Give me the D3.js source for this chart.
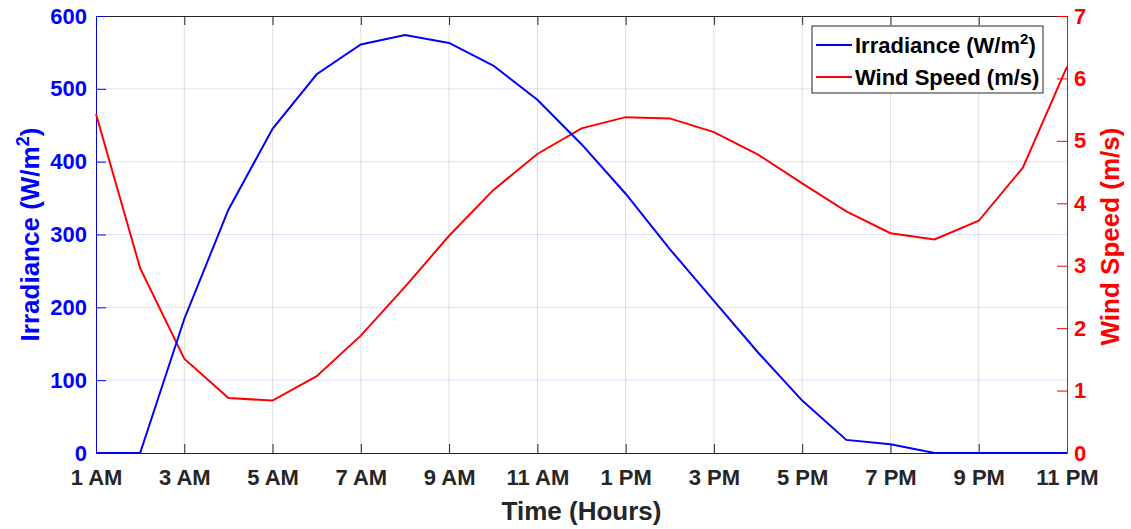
<!DOCTYPE html>
<head>
    <meta charset="utf-8">
    <script src="https://cdn.jsdelivr.net/npm/d3@7"></script>
    <style type="text/css">
        body { margin: 0; background: #fff; }
        svg { display: block; font-family: Arial, "Liberation Sans", sans-serif; font-weight: bold; }
    </style>
</head>
<body>
    <div id="chart"></div>
</body>
<script type="text/javascript">
    // Data
    var hours = [1, 2, 3, 4, 5, 6, 7, 8, 9, 10, 11, 12, 13, 14, 15, 16, 17, 18, 19, 20, 21, 22, 23];
    var irradiance = [0, 0, 184, 334, 445, 520, 561, 574, 563, 532, 485, 424, 356, 280, 209, 138, 72, 18, 12, 0, 0, 0, 0];
    var windSpeed = [5.43, 2.96, 1.51, 0.88, 0.84, 1.23, 1.88, 2.66, 3.48, 4.21, 4.79, 5.20, 5.38, 5.36, 5.14, 4.78, 4.32, 3.87, 3.52, 3.42, 3.72, 4.57, 6.19];
    var xTicks = [1, 3, 5, 7, 9, 11, 13, 15, 17, 19, 21, 23];
    var xTickLabels = ["1 AM", "3 AM", "5 AM", "7 AM", "9 AM", "11 AM", "1 PM", "3 PM", "5 PM", "7 PM", "9 PM", "11 PM"];
    var irrTicks = [0, 100, 200, 300, 400, 500, 600];
    var windTicks = [0, 1, 2, 3, 4, 5, 6, 7];

    var width = 1131, height = 529;
    var margin = {top: 16, right: 64, bottom: 76, left: 96};
    var x0 = margin.left, x1 = width - margin.right, y0 = height - margin.bottom, y1 = margin.top;

    var x = d3.scaleLinear().domain([1, 23]).range([x0, x1]);
    var yL = d3.scaleLinear().domain([0, 600]).range([y0, y1]);
    var yR = d3.scaleLinear().domain([0, 7]).range([y0, y1]);

    var svg = d3.select("#chart").append("svg")
        .attr("width", width)
        .attr("height", height);

    // grid
    svg.append("g").selectAll("line")
        .data(xTicks.slice(1, -1))
        .enter().append("line")
        .attr("x1", function(d) { return x(d); })
        .attr("x2", function(d) { return x(d); })
        .attr("y1", y1).attr("y2", y0)
        .attr("stroke", "#262626").attr("stroke-opacity", 0.15).attr("stroke-width", 1);

    svg.append("g").selectAll("line")
        .data(irrTicks.slice(1, -1))
        .enter().append("line")
        .attr("x1", x0).attr("x2", x1)
        .attr("y1", function(d) { return yL(d); })
        .attr("y2", function(d) { return yL(d); })
        .attr("stroke", "#0000ff").attr("stroke-opacity", 0.12).attr("stroke-width", 1);

    // x axes (bottom + top, ticks inside)
    var fmt = function(d) { return xTickLabels[xTicks.indexOf(d)]; };
    var xAxis = svg.append("g")
        .attr("transform", "translate(0," + y0 + ")")
        .call(d3.axisBottom(x).tickValues(xTicks).tickFormat(fmt).tickSizeInner(-9).tickSizeOuter(0).tickPadding(16));
    xAxis.selectAll("text").attr("fill", "#262626").style("font-size", "22px").style("font-weight", "bold");
    xAxis.selectAll("line, path").attr("stroke", "#262626");

    var xTop = svg.append("g")
        .attr("transform", "translate(0," + y1 + ")")
        .call(d3.axisTop(x).tickValues(xTicks).tickFormat("").tickSizeInner(-9).tickSizeOuter(0));
    xTop.selectAll("line, path").attr("stroke", "#262626");

    // left axis
    var left = svg.append("g")
        .attr("transform", "translate(" + x0 + ",0)")
        .call(d3.axisLeft(yL).tickValues(irrTicks).tickSizeInner(-10).tickSizeOuter(0).tickPadding(9));
    left.selectAll("line, path").attr("stroke", "#0000ff");
    left.selectAll("text").attr("fill", "#0000ff").style("font-size", "22px").style("font-weight", "bold");

    // right axis
    var right = svg.append("g")
        .attr("transform", "translate(" + x1 + ",0)")
        .call(d3.axisRight(yR).tickValues(windTicks).tickFormat(d3.format("d")).tickSizeInner(-10).tickSizeOuter(0).tickPadding(7));
    right.selectAll("line, path").attr("stroke", "#ff0000");
    right.selectAll("text").attr("fill", "#ff0000").style("font-size", "22px").style("font-weight", "bold");

    // lines
    var lineIrr = d3.line()
        .x(function(d, i) { return x(hours[i]); })
        .y(function(d) { return yL(d); });
    var lineWind = d3.line()
        .x(function(d, i) { return x(hours[i]); })
        .y(function(d) { return yR(d); });

    svg.append("path").datum(windSpeed)
        .attr("d", lineWind)
        .attr("fill", "none").attr("stroke", "#ff0000").attr("stroke-width", 2);
    svg.append("path").datum(irradiance)
        .attr("d", lineIrr)
        .attr("fill", "none").attr("stroke", "#0000ff").attr("stroke-width", 2);

    // axis titles
    svg.append("text")
        .attr("x", (x0 + x1) / 2).attr("y", 520)
        .attr("text-anchor", "middle")
        .attr("fill", "#262626")
        .style("font-size", "26px")
        .text("Time (Hours)");

    var tl = svg.append("text")
        .attr("transform", "translate(39," + ((y0 + y1) / 2) + ") rotate(-90)")
        .attr("text-anchor", "middle")
        .attr("fill", "#0000ff")
        .style("font-size", "26px");
    tl.append("tspan").text("Irradiance (W/m");
    tl.append("tspan").attr("dy", -10).style("font-size", "18px").text("2");
    tl.append("tspan").attr("dy", 10).text(")");

    svg.append("text")
        .attr("transform", "translate(1119," + ((y0 + y1) / 2 + 2) + ") rotate(-90)")
        .attr("text-anchor", "middle")
        .attr("fill", "#ff0000")
        .style("font-size", "26px")
        .text("Wind Speed (m/s)");

    // legend
    var legend = svg.append("g").attr("transform", "translate(812,26)");
    legend.append("rect")
        .attr("width", 231).attr("height", 67)
        .attr("fill", "#fff").attr("stroke", "#262626").attr("stroke-width", 1);
    var items = [{c: "#0000ff", y: 19}, {c: "#ff0000", y: 51}];
    items.forEach(function(it) {
        legend.append("line")
            .attr("x1", 4).attr("x2", 40)
            .attr("y1", it.y).attr("y2", it.y)
            .attr("stroke", it.c).attr("stroke-width", 2);
    });
    var lt = legend.append("text").attr("x", 43).attr("y", 27).attr("fill", "#000").style("font-size", "22px");
    lt.append("tspan").text("Irradiance (W/m");
    lt.append("tspan").attr("dy", -9).style("font-size", "15px").text("2");
    lt.append("tspan").attr("dy", 9).text(")");
    legend.append("text").attr("x", 43).attr("y", 59).attr("fill", "#000").style("font-size", "22px")
        .text("Wind Speed (m/s)");
</script>
